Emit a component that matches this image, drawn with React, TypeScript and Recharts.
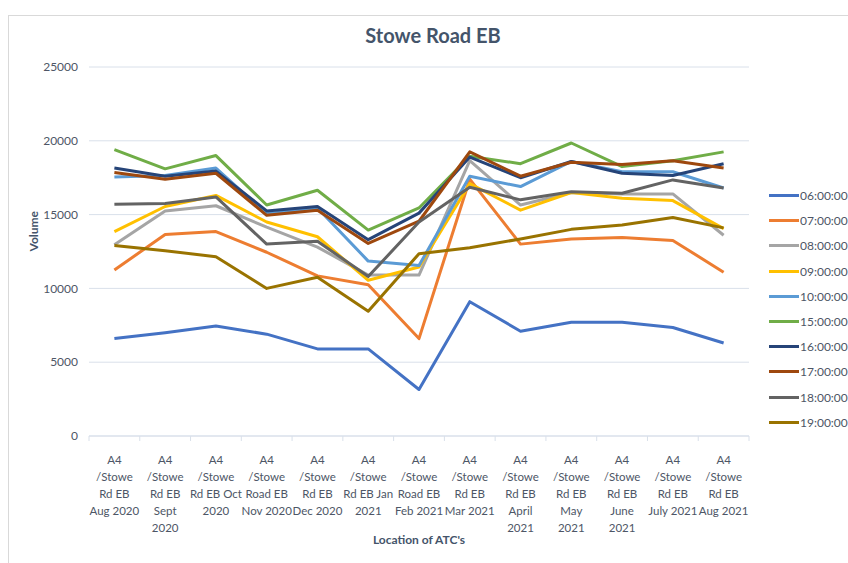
import React from 'react'
import {
  LineChart, Line, XAxis, YAxis, CartesianGrid, Legend,
} from 'recharts'

// ── Stowe Road EB: hourly volumes per monthly ATC survey ──

const categories = [
  'A4\n/Stowe\nRd EB\nAug 2020',
  'A4\n/Stowe\nRd EB\nSept\n2020',
  'A4\n/Stowe\nRd EB Oct\n2020',
  'A4\n/Stowe\nRoad EB\nNov 2020',
  'A4\n/Stowe\nRd EB\nDec 2020',
  'A4\n/Stowe\nRd EB Jan\n2021',
  'A4\n/Stowe\nRoad EB\nFeb 2021',
  'A4\n/Stowe\nRd EB\nMar 2021',
  'A4\n/Stowe\nRd EB\nApril\n2021',
  'A4\n/Stowe\nRd EB\nMay\n2021',
  'A4\n/Stowe\nRd EB\nJune\n2021',
  'A4\n/Stowe\nRd EB\nJuly 2021',
  'A4\n/Stowe\nRd EB\nAug 2021',
]

const v0600 = [6600, 7000, 7450, 6900, 5900, 5900, 3150, 9100, 7100, 7700, 7700, 7350, 6300]
const v0700 = [11250, 13650, 13850, 12450, 10850, 10250, 6600, 17400, 13000, 13350, 13450, 13250, 11100]
const v0800 = [12950, 15250, 15600, 14150, 12800, 10900, 10900, 18650, 15650, 16500, 16400, 16400, 13600]
const v0900 = [13850, 15550, 16300, 14500, 13500, 10550, 11450, 17100, 15300, 16500, 16100, 15950, 14050]
const v1000 = [17550, 17650, 18150, 15050, 15450, 11850, 11550, 17600, 16900, 18600, 17900, 17900, 16800]
const v1500 = [19400, 18100, 19000, 15650, 16650, 13950, 15450, 18950, 18450, 19850, 18250, 18650, 19250]
const v1600 = [18150, 17600, 17950, 15250, 15550, 13300, 15100, 18900, 17500, 18600, 17800, 17650, 18450]
const v1700 = [17850, 17400, 17800, 14950, 15300, 13050, 14550, 19250, 17600, 18550, 18400, 18650, 18150]
const v1800 = [15700, 15750, 16200, 13000, 13200, 10800, 14500, 16850, 16000, 16550, 16450, 17350, 16800]
const v1900 = [12900, 12550, 12150, 10000, 10750, 8450, 12350, 12750, 13350, 14000, 14300, 14800, 14100]

const yTicks = [0, 5000, 10000, 15000, 20000, 25000]

const series = [
  { key: '06:00:00', values: v0600, color: '#4472C4' },
  { key: '07:00:00', values: v0700, color: '#ED7D31' },
  { key: '08:00:00', values: v0800, color: '#A5A5A5' },
  { key: '09:00:00', values: v0900, color: '#FFC000' },
  { key: '10:00:00', values: v1000, color: '#5B9BD5' },
  { key: '15:00:00', values: v1500, color: '#70AD47' },
  { key: '16:00:00', values: v1600, color: '#264478' },
  { key: '17:00:00', values: v1700, color: '#9E480E' },
  { key: '18:00:00', values: v1800, color: '#636363' },
  { key: '19:00:00', values: v1900, color: '#997300' },
]

const rows = categories.map((name, i) => {
  const row: Record<string, string | number> = { name }
  series.forEach(s => { row[s.key] = s.values[i] })
  return row
})

const FONT = 'Lato, "Liberation Sans", sans-serif'
const TEXT = '#4d5666'
const TITLE = '#44546A'
const GRID = '#D9E0EA'

// category label + the little tick marks that sit between categories (Excel style)
function CategoryTick({ x, y, width, visibleTicksCount, index, payload }: any) {
  const lines = String(payload.value).split('\n')
  const step = width / visibleTicksCount
  const left = x - step / 2
  const right = x + step / 2
  return (
    <g>
      <line x1={left} x2={left} y1={y} y2={y + 5} stroke={GRID} />
      {index === visibleTicksCount - 1 && <line x1={right} x2={right} y1={y} y2={y + 5} stroke={GRID} />}
      <text x={x} y={y} textAnchor="middle" fill={TEXT} fontSize={11.5} fontFamily={FONT}>
        {lines.map((l, i) => (
          <tspan key={i} x={x} dy={i === 0 ? 28 : 17}>{l}</tspan>
        ))}
      </text>
    </g>
  )
}

function LegendList({ payload }: any) {
  return (
    <div>
      {(payload || []).map((p: any) => (
        <div key={p.value} style={{ display: 'flex', alignItems: 'center', height: 25.2 }}>
          <span style={{ width: 30, height: 3, background: p.color, display: 'inline-block' }} />
          <span style={{ fontSize: 12, color: TEXT, fontFamily: FONT, marginLeft: 1 }}>{p.value}</span>
        </div>
      ))}
    </div>
  )
}

export default function App() {
  return (
    <div style={{ position: 'absolute', left: 0, top: 0, width: 848, height: 563, background: '#fff', overflow: 'hidden', fontFamily: FONT }}>
      <div style={{ position: 'absolute', left: 8, top: 15, width: 860, height: 570, border: '1px solid #D9D9D9' }} />
      <div style={{ position: 'absolute', left: 0, width: 866, top: 23, textAlign: 'center', fontSize: 20, fontWeight: 700, color: TITLE }}>
        Stowe Road EB
      </div>
      <div style={{ position: 'absolute', left: 0, top: 0 }}>
        <LineChart width={848} height={563} data={rows} margin={{ top: 67, right: 99, bottom: 17, left: 29 }}>
          <CartesianGrid vertical={false} stroke={GRID} strokeWidth={1} />
          <XAxis
            dataKey="name" scale="band" interval={0} height={110}
            axisLine={{ stroke: GRID }} tickLine={false} tickSize={0} tickMargin={0}
            tick={<CategoryTick />}
            label={{ value: "Location of ATC's", position: 'insideBottom', offset: 2, fill: TITLE, fontSize: 12, fontWeight: 700, fontFamily: FONT }}
          />
          <YAxis
            domain={[0, 25000]} ticks={yTicks} width={60} axisLine={false} tickLine={false}
            tickMargin={5} tick={{ fill: TEXT, fontSize: 12, fontFamily: FONT }}
            label={{ value: 'Volume', angle: -90, position: 'insideLeft', offset: 5, fill: TITLE, fontSize: 12, fontWeight: 700, fontFamily: FONT }}
          />
          <Legend
            layout="vertical" align="center" verticalAlign="middle"
            wrapperStyle={{ position: 'absolute', left: 769, top: 183, width: 80 }}
            content={<LegendList />}
          />
          {series.map(s => (
            <Line
              key={s.key} type="linear" dataKey={s.key} name={s.key}
              stroke={s.color} strokeWidth={3} dot={false} strokeLinejoin="round"
              isAnimationActive={false}
            />
          ))}
        </LineChart>
      </div>
    </div>
  )
}
